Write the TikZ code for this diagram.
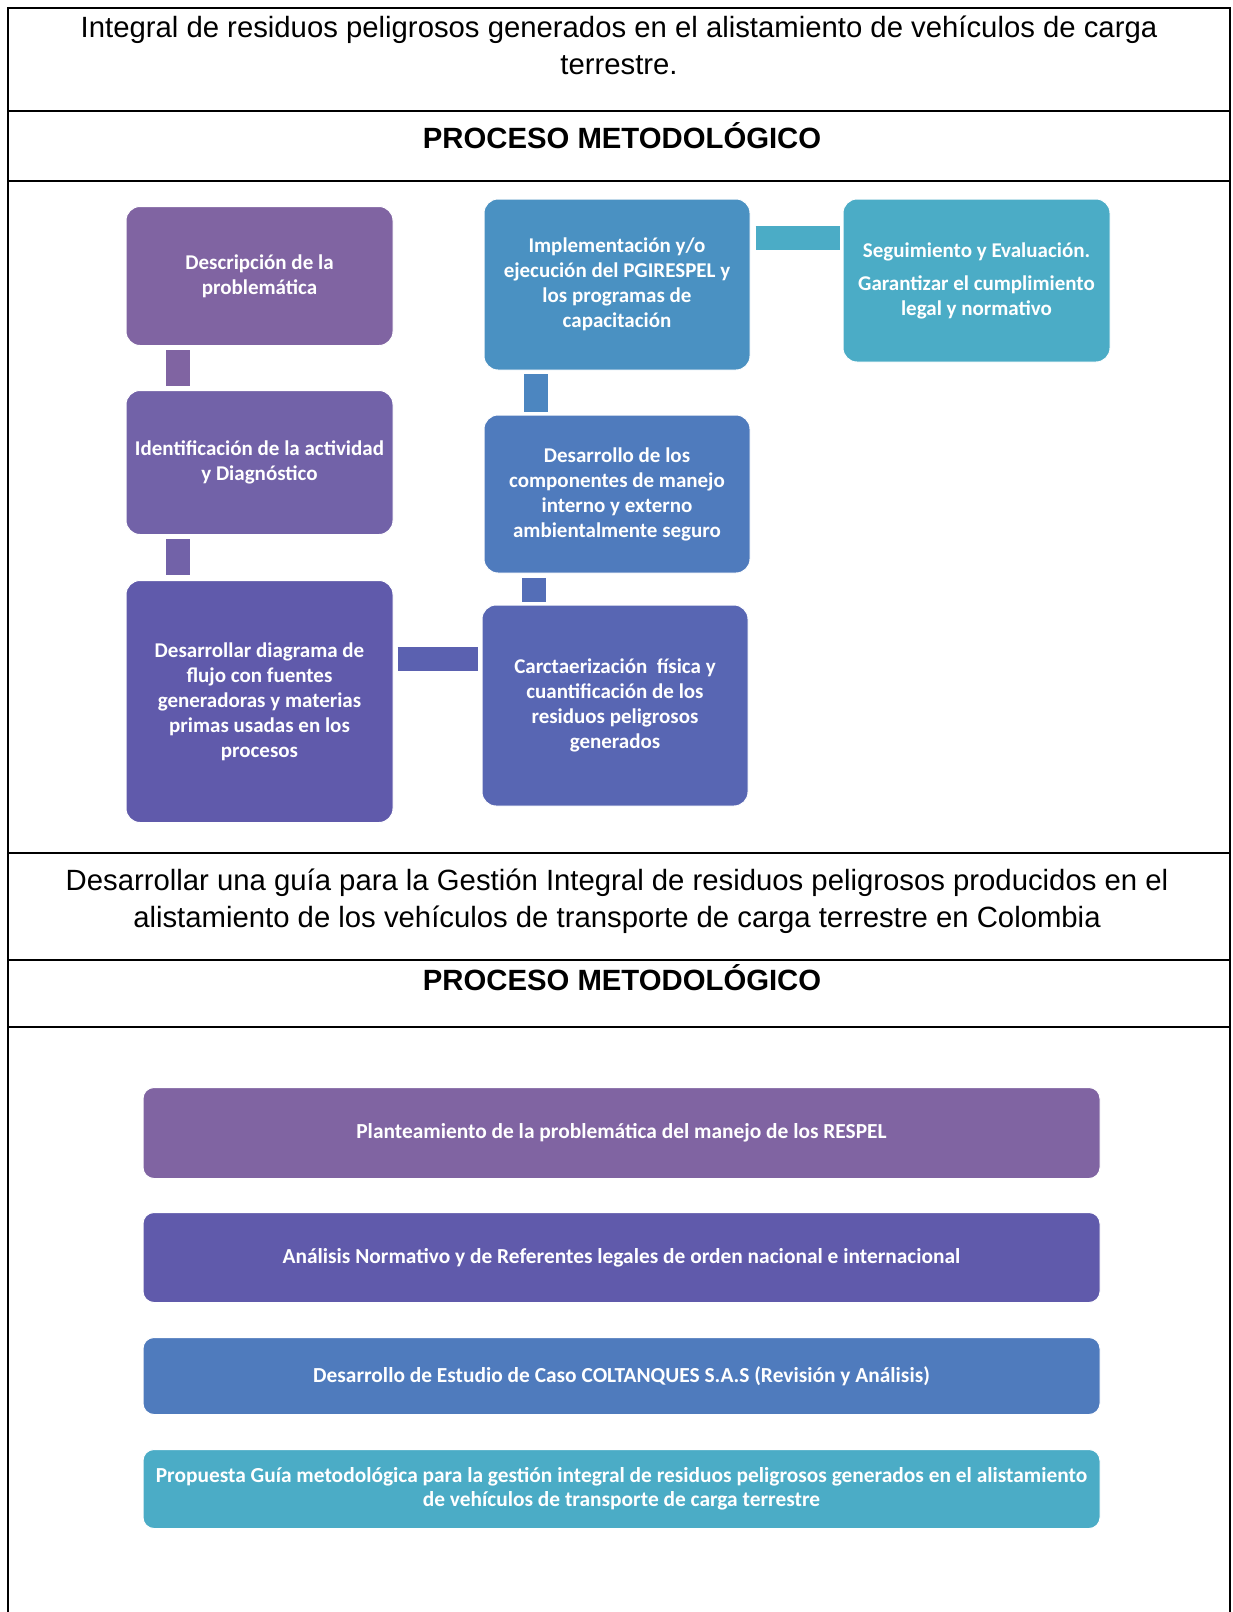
\documentclass[tikz,border=0pt]{standalone}
\usepackage{fontspec}
\setmainfont{Liberation Sans}
\newfontfamily\boxfont{Carlito}
\usetikzlibrary{positioning}

\definecolor{tonoA}{HTML}{8064A2}
\definecolor{tonoB}{HTML}{7262A8}
\definecolor{tonoC}{HTML}{605AAB}
\definecolor{tonoD}{HTML}{5866B3}
\definecolor{tonoE}{HTML}{4F7BBD}
\definecolor{tonoF}{HTML}{4A91C2}
\definecolor{tonoG}{HTML}{4BACC6}

\tikzstyle{titulo} = [align=center, font=\fontsize{29.3}{37}\selectfont]
\tikzstyle{encabezado} = [font=\bfseries\fontsize{29.3}{37}\selectfont]
\tikzstyle{etapa} = [rectangle, rounded corners=14pt, draw=white, line width=1pt,
    text=white, align=center, inner sep=6pt,
    font=\boxfont\bfseries\fontsize{21}{25}\selectfont]
\tikzstyle{franja} = [etapa, rounded corners=11pt, minimum width=957pt,
    font=\boxfont\bfseries\fontsize{21.4}{24}\selectfont]
\tikzstyle{enlace} = [line width=24pt]

\begin{document}
\begin{tikzpicture}[x=1pt, y=-1pt, node distance=33pt]
    \useasboundingbox (0,0) rectangle (1232,1612);

    % marco de la tabla
    \draw [line width=2.5pt] (8,1612) -- (8,8) -- (1230,8) -- (1230,1612);
    \foreach \fila in {111,181,853,960,1027}
        \draw [line width=2.5pt] (8,\fila) -- (1230,\fila);

    \node [titulo] (objetivo1) at (619,45) {Integral de residuos peligrosos generados en el alistamiento de veh\'iculos de carga\\terrestre.};
    \node [encabezado] (proceso1) at (622,136) {PROCESO METODOL\'OGICO};
    \node [titulo] (objetivo2) at (617,901) {Desarrollar una gu\'ia para la Gesti\'on Integral de residuos peligrosos producidos en el\\alistamiento de los veh\'iculos de transporte de carga terrestre en Colombia};
    \node [encabezado] (proceso2) at (622,978) {PROCESO METODOL\'OGICO};

    % primer proceso
    \node [etapa, fill=tonoA, minimum width=267pt, minimum height=139pt] (descripcion) at (259.5,276) {Descripci\'on de la\\problem\'atica};
    \node [etapa, fill=tonoB, minimum width=267pt, minimum height=144pt, below=44pt of descripcion] (identificacion) {Identificaci\'on de la actividad\\y Diagn\'ostico};
    \node [etapa, fill=tonoC, minimum width=267pt, minimum height=242pt, below=45pt of identificacion] (flujo) {Desarrollar diagrama de\\flujo con fuentes\\generadoras y materias\\primas usadas en los\\procesos};
    \node [etapa, fill=tonoD, minimum width=266pt, minimum height=201pt, right=88pt of flujo, yshift=-4pt] (caracterizacion) {Carctaerizaci\'on\ \ f\'isica y\\cuantificaci\'on de los\\residuos peligrosos\\generados};
    \node [etapa, fill=tonoE, minimum width=266pt, minimum height=158pt, above=31pt of caracterizacion, xshift=2pt] (componentes) {Desarrollo de los\\componentes de manejo\\interno y externo\\ambientalmente seguro};
    \node [etapa, fill=tonoF, minimum width=266pt, minimum height=171pt, above=44pt of componentes] (implementacion) {Implementaci\'on y/o\\ejecuci\'on del PGIRESPEL y\\los programas de\\capacitaci\'on};
    \node [etapa, fill=tonoG, minimum width=267pt, minimum height=163pt, right=92pt of implementacion.north east, anchor=north west] (seguimiento) {Seguimiento y Evaluaci\'on.\\[8pt]Garantizar el cumplimiento\\legal y normativo};

    \draw [enlace, tonoA] ([shift={(52pt,-4pt)}]descripcion.south west) -- ([shift={(52pt,4pt)}]identificacion.north west);
    \draw [enlace, tonoB] ([shift={(52pt,-4pt)}]identificacion.south west) -- ([shift={(52pt,5pt)}]flujo.north west);
    \draw [enlace, tonoD!60!tonoC] ([shift={(4pt,-79pt)}]flujo.north east) -- ([shift={(-4pt,-54.5pt)}]caracterizacion.north west);
    \draw [enlace, tonoD!60!tonoE] ([shift={(52pt,3pt)}]caracterizacion.north west) -- ([shift={(50pt,-4pt)}]componentes.south west);
    \draw [enlace, tonoE!50!tonoF] ([shift={(52pt,3pt)}]componentes.north west) -- ([shift={(52pt,-3pt)}]implementacion.south west);
    \draw [enlace, tonoG] ([shift={(5pt,-39pt)}]implementacion.north east) -- ([shift={(-3pt,-39pt)}]seguimiento.north west);

    % segundo proceso
    \node [franja, fill=tonoA, minimum height=91pt] (planteamiento) at (621.5,1133) {Planteamiento de la problem\'atica del manejo de los RESPEL};
    \node [franja, fill=tonoC, minimum height=90pt, below=of planteamiento] (normativo) {An\'alisis Normativo y de Referentes legales de orden nacional e internacional};
    \node [franja, fill=tonoE, minimum height=77pt, below=34pt of normativo] (estudio) {Desarrollo de Estudio de Caso COLTANQUES S.A.S (Revisi\'on y An\'alisis)};
    \node [franja, fill=tonoG, minimum height=79pt, below=34pt of estudio] (propuesta) {Propuesta Gu\'ia metodol\'ogica para la gesti\'on integral de residuos peligrosos generados en el alistamiento\\de veh\'iculos de transporte de carga terrestre};
\end{tikzpicture}
\end{document}
